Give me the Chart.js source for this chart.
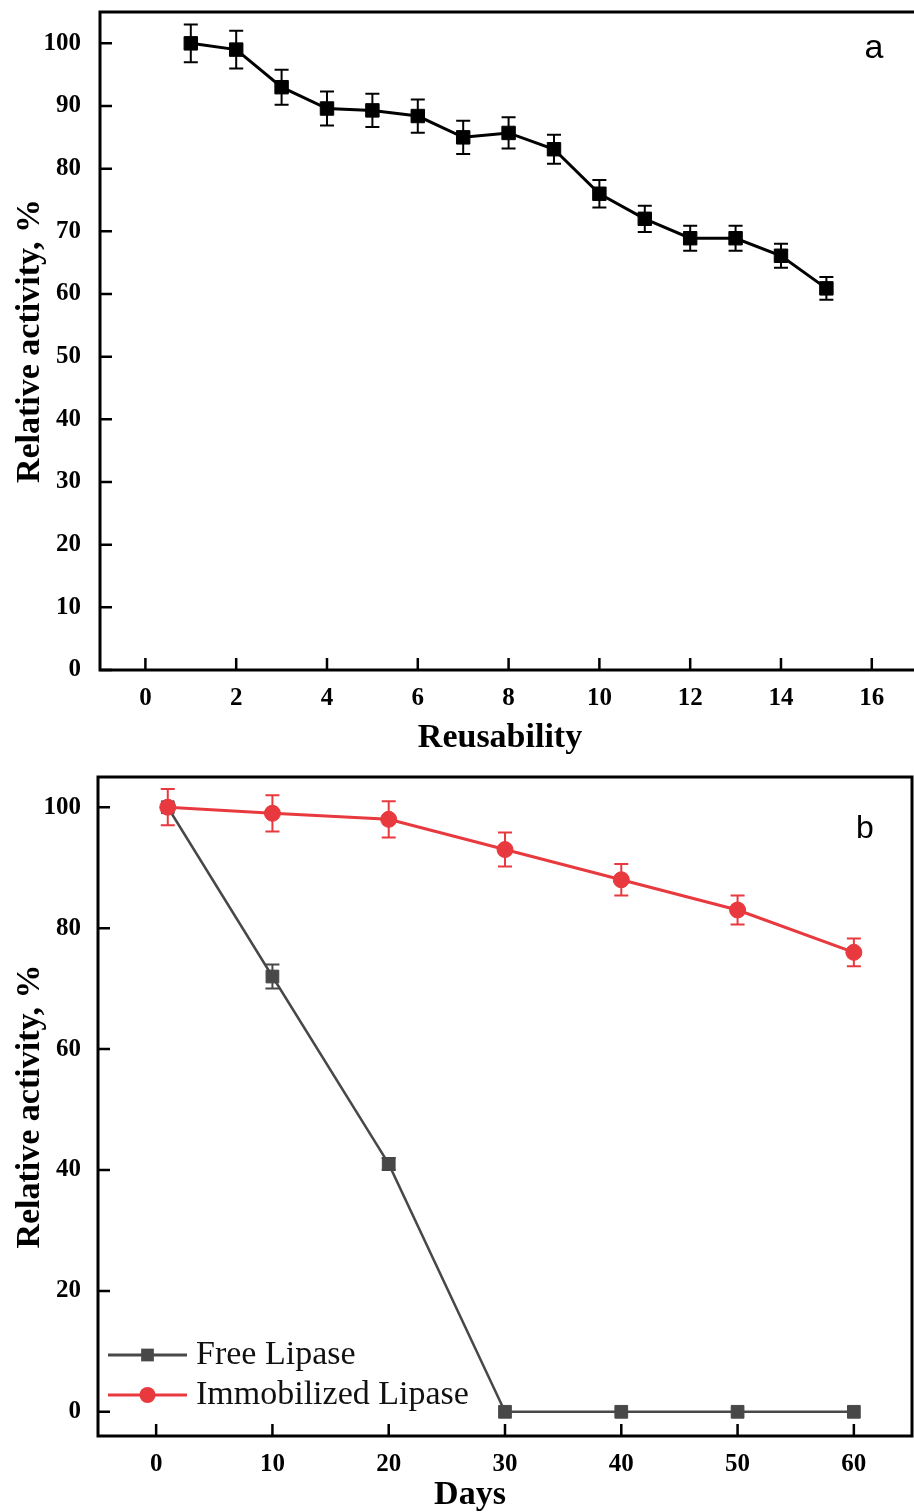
<!DOCTYPE html>
<html><head><meta charset="utf-8">
<script src="https://cdn.jsdelivr.net/npm/chart.js@4.4.1/dist/chart.umd.min.js"></script>
<style>
html,body{margin:0;padding:0;background:#fff;width:914px;height:1512px;overflow:hidden;}
canvas{position:absolute;left:0;}
#ca{top:0;} #cb{top:760px;}
</style></head><body>
<canvas id="ca" width="914" height="760"></canvas>
<canvas id="cb" width="914" height="752"></canvas>
<script>
// ---- Panel a: reusability ----
const reuseCycles   = [1, 2, 3, 4, 5, 6, 7, 8, 9, 10, 11, 12, 13, 14, 15];
const reuseActivity = [100, 99, 93, 89.6, 89.3, 88.4, 85, 85.7, 83.1, 76, 72, 68.9, 68.9, 66.1, 60.9];
const reuseError    = [3, 3, 2.8, 2.7, 2.65, 2.65, 2.65, 2.5, 2.3, 2.2, 2.1, 2.0, 2.0, 1.9, 1.8];
const reuseXTicks   = [0, 2, 4, 6, 8, 10, 12, 14, 16];
const reuseYTicks   = [0, 10, 20, 30, 40, 50, 60, 70, 80, 90, 100];

// ---- Panel b: storage stability ----
const storageDays            = [1, 10, 20, 30, 40, 50, 60];
const freeLipase             = [100, 72, 41, 0, 0, 0, 0];
const freeLipaseError        = [0, 2, 1, 0, 0, 0, 0];
const immobilizedLipase      = [100, 99, 98, 93, 88, 83, 76];
const immobilizedLipaseError = [3, 3, 3, 2.8, 2.6, 2.4, 2.3];
const daysXTicks             = [0, 10, 20, 30, 40, 50, 60];
const daysYTicks             = [0, 20, 40, 60, 80, 100];

const SERIF = "'Liberation Serif', 'Times New Roman', serif";
const SANS = "'Liberation Sans', Arial, sans-serif";
Chart.defaults.font.family = SERIF;
Chart.defaults.color = '#000';

const toPts = (xs, ys) => xs.map((v, i) => ({x: v, y: ys[i]}));

const errorBarPlugin = {
  id: 'errorBars',
  beforeDatasetsDraw(chart) {
    const {ctx, scales: {x, y}} = chart;
    chart.data.datasets.forEach(ds => {
      if (!ds.errorBars) return;
      ctx.save();
      ctx.strokeStyle = ds.errorColor || ds.borderColor;
      ctx.lineWidth = ds.errorWidth || 2;
      const c = ds.errorCap || 7;
      ds.data.forEach((pt, j) => {
        const e = ds.errorBars[j];
        if (!e) return;
        const px = x.getPixelForValue(pt.x);
        const yt = y.getPixelForValue(pt.y + e);
        const yb = y.getPixelForValue(pt.y - e);
        ctx.beginPath();
        ctx.moveTo(px, yt); ctx.lineTo(px, yb);
        ctx.moveTo(px - c, yt); ctx.lineTo(px + c, yt);
        ctx.moveTo(px - c, yb); ctx.lineTo(px + c, yb);
        ctx.stroke();
      });
      ctx.restore();
    });
  }
};

const framePlugin = {
  id: 'frameTicks',
  afterDatasetsDraw(chart, args, o) {
    const {ctx, chartArea: a, scales: {x, y}} = chart;
    ctx.save();
    ctx.strokeStyle = '#000';
    ctx.lineWidth = 3;
    ctx.lineCap = 'square';
    ctx.beginPath();
    if (o.sides.includes('left'))   { ctx.moveTo(a.left, a.top); ctx.lineTo(a.left, a.bottom); }
    if (o.sides.includes('top'))    { ctx.moveTo(a.left, a.top); ctx.lineTo(a.right, a.top); }
    if (o.sides.includes('bottom')) { ctx.moveTo(a.left, a.bottom); ctx.lineTo(a.right, a.bottom); }
    if (o.sides.includes('right'))  { ctx.moveTo(a.right, a.top); ctx.lineTo(a.right, a.bottom); }
    ctx.stroke();
    ctx.lineWidth = 2.5;
    ctx.lineCap = 'butt';
    ctx.beginPath();
    x.ticks.forEach(t => { const p = x.getPixelForValue(t.value); ctx.moveTo(p, a.bottom); ctx.lineTo(p, a.bottom - 12); });
    y.ticks.forEach(t => { const p = y.getPixelForValue(t.value); ctx.moveTo(a.left, p); ctx.lineTo(a.left + 12, p); });
    ctx.stroke();
    ctx.fillStyle = '#000';
    ctx.font = o.letterFont;
    ctx.textAlign = 'center';
    ctx.textBaseline = 'alphabetic';
    ctx.fillText(o.letter, a.right - o.letterDx, a.top + o.letterDy);
    // x-axis title
    ctx.font = o.xTitleFont;
    ctx.fillText(o.xTitle, o.xTitleX, o.xTitleY);
    ctx.restore();
  }
};

const insideLegendPlugin = {
  id: 'insideLegend',
  afterDraw(chart, args, o) {
    if (!o.show) return;
    const {ctx, chartArea: a} = chart;
    ctx.save();
    chart.data.datasets.forEach((ds, i) => {
      const yy = a.bottom - o.rowsFromBottom[i];
      const x0 = a.left + o.lineStart, x1 = a.left + o.lineEnd, xm = (x0 + x1) / 2;
      ctx.strokeStyle = ds.borderColor;
      ctx.lineWidth = 3;
      ctx.beginPath(); ctx.moveTo(x0, yy); ctx.lineTo(x1, yy); ctx.stroke();
      ctx.fillStyle = ds.backgroundColor;
      if (ds.pointStyle === 'circle') {
        ctx.beginPath(); ctx.arc(xm, yy, ds.pointRadius, 0, Math.PI * 2); ctx.fill();
      } else {
        const s = ds.pointRadius * Math.SQRT1_2;
        ctx.fillRect(xm - s, yy - s, 2 * s, 2 * s);
      }
      ctx.fillStyle = '#111';
      ctx.font = o.font;
      ctx.textAlign = 'left';
      ctx.textBaseline = 'middle';
      ctx.fillText(ds.label, a.left + o.textStart, yy);
    });
    ctx.restore();
  }
};

function fixedAxis(size, isX, tickList) {
  return {
    afterBuildTicks: s => { s.ticks = tickList.map(v => ({value: v})); },
    afterFit: s => {
      if (isX) s.height = size; else s.width = size;
      s.paddingTop = 0; s.paddingBottom = 0; s.paddingLeft = 0; s.paddingRight = 0;
    }
  };
}

const tickFont = {size: 25, weight: 'bold', family: SERIF};

// Panel a
new Chart(document.getElementById('ca'), {
  type: 'line',
  data: {
    datasets: [{
      label: 'Relative activity',
      data: toPts(reuseCycles, reuseActivity),
      errorBars: reuseError,
      borderColor: '#000', backgroundColor: '#000',
      borderWidth: 3,
      pointStyle: 'rect', pointRadius: 9.5, pointBorderWidth: 1,
      errorColor: '#000', errorWidth: 2, errorCap: 7,
      tension: 0
    }]
  },
  options: {
    responsive: false, animation: false, events: [],
    layout: {autoPadding: false, padding: {top: 12, right: 0, bottom: 0, left: 0}},
    plugins: {
      legend: {display: false}, tooltip: {enabled: false},
      frameTicks: {sides: ['left', 'top', 'bottom'], letter: 'a', letterFont: '34px ' + SANS, letterDx: 40, letterDy: 46,
        xTitle: 'Reusability', xTitleFont: 'bold 34px ' + SERIF, xTitleX: 500, xTitleY: 747},
      insideLegend: {show: false}
    },
    scales: {
      x: Object.assign({
        type: 'linear', min: -1, max: 16.93,
        grid: {display: false}, border: {display: false},
        ticks: {font: tickFont, color: '#000', padding: 6, maxRotation: 0, autoSkip: false},
        title: {display: false}
      }, fixedAxis(90, true, reuseXTicks)),
      y: Object.assign({
        type: 'linear', min: 0, max: 105,
        grid: {display: false}, border: {display: false},
        ticks: {font: tickFont, color: '#000', padding: 11, autoSkip: false},
        title: {display: true, text: 'Relative activity, %', color: '#000', font: {size: 34, weight: 'bold', family: SERIF}, padding: {top: 10, bottom: 0}}
      }, fixedAxis(100, false, reuseYTicks))
    }
  },
  plugins: [errorBarPlugin, framePlugin, insideLegendPlugin]
});

// Panel b
new Chart(document.getElementById('cb'), {
  type: 'line',
  data: {
    datasets: [{
      label: 'Free Lipase',
      data: toPts(storageDays, freeLipase),
      errorBars: freeLipaseError,
      borderColor: '#484848', backgroundColor: '#484848',
      borderWidth: 2.5, order: 2,
      pointStyle: 'rect', pointRadius: 9, pointBorderWidth: 1,
      errorColor: '#484848', errorWidth: 2, errorCap: 7, tension: 0
    }, {
      label: 'Immobilized Lipase',
      data: toPts(storageDays, immobilizedLipase),
      errorBars: immobilizedLipaseError,
      borderColor: '#E8393F', backgroundColor: '#E8393F',
      borderWidth: 3, order: 1,
      pointStyle: 'circle', pointRadius: 8, pointBorderWidth: 1,
      errorColor: '#E8393F', errorWidth: 2, errorCap: 7, tension: 0
    }]
  },
  options: {
    responsive: false, animation: false, events: [],
    layout: {autoPadding: false, padding: {top: 17, right: 2, bottom: 0, left: 0}},
    plugins: {
      legend: {display: false}, tooltip: {enabled: false},
      frameTicks: {sides: ['left', 'top', 'bottom', 'right'], letter: 'b', letterFont: '32px ' + SANS, letterDx: 47, letterDy: 61,
        xTitle: 'Days', xTitleFont: 'bold 34px ' + SERIF, xTitleX: 470, xTitleY: 744},
      insideLegend: {show: true, rowsFromBottom: [81, 41], lineStart: 10, lineEnd: 89, textStart: 98, font: '34px ' + SERIF}
    },
    scales: {
      x: Object.assign({
        type: 'linear', min: -5, max: 65,
        grid: {display: false}, border: {display: false},
        ticks: {font: tickFont, color: '#000', padding: 6, maxRotation: 0, autoSkip: false},
        title: {display: false}
      }, fixedAxis(76, true, daysXTicks)),
      y: Object.assign({
        type: 'linear', min: -4, max: 105,
        grid: {display: false}, border: {display: false},
        ticks: {font: tickFont, color: '#000', padding: 9, autoSkip: false},
        title: {display: true, text: 'Relative activity, %', color: '#000', font: {size: 34, weight: 'bold', family: SERIF}, padding: {top: 10, bottom: 0}}
      }, fixedAxis(98, false, daysYTicks))
    }
  },
  plugins: [errorBarPlugin, framePlugin, insideLegendPlugin]
});
</script>
</body></html>
